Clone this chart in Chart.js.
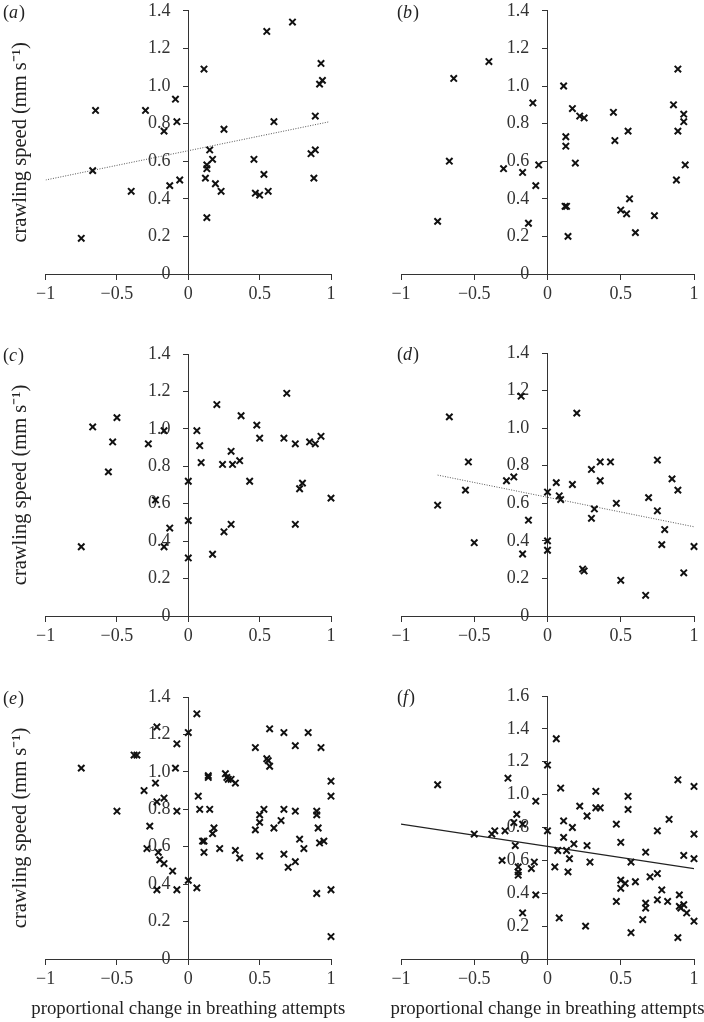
<!DOCTYPE html>
<html>
<head>
<meta charset="utf-8">
<script src="https://cdn.jsdelivr.net/npm/chart.js@4.4.1/dist/chart.umd.min.js"></script>
<style>
  body { margin: 0; background: #fff; }
  .panel { position: absolute; }
</style>
</head>
<body>
<div class="panel" style="left:0;top:0"><canvas id="chartA" width="352" height="330"></canvas></div>
<div class="panel" style="left:352px;top:0"><canvas id="chartB" width="352" height="330"></canvas></div>
<div class="panel" style="left:0;top:330px"><canvas id="chartC" width="352" height="330"></canvas></div>
<div class="panel" style="left:352px;top:330px"><canvas id="chartD" width="352" height="330"></canvas></div>
<div class="panel" style="left:0;top:660px"><canvas id="chartE" width="352" height="362"></canvas></div>
<div class="panel" style="left:352px;top:660px"><canvas id="chartF" width="352" height="362"></canvas></div>
<script>
// (a)
var aX = [-0.75, -0.65, -0.67, -0.40, -0.30, -0.17, -0.13, -0.09, -0.08, -0.06, 0.11, 0.12, 0.13, 0.13, 0.13, 0.15, 0.17, 0.19, 0.23, 0.25, 0.46, 0.47, 0.50, 0.53, 0.55, 0.56, 0.60, 0.73, 0.86, 0.89, 0.89, 0.88, 0.93, 0.92, 0.94];
var aY = [0.19, 0.87, 0.55, 0.44, 0.87, 0.76, 0.47, 0.93, 0.81, 0.50, 1.09, 0.51, 0.58, 0.56, 0.30, 0.66, 0.61, 0.48, 0.44, 0.77, 0.61, 0.43, 0.42, 0.53, 1.29, 0.44, 0.81, 1.34, 0.64, 0.84, 0.66, 0.51, 1.12, 1.01, 1.03];
var aFitX = [-1, 0.99];
var aFitY = [0.50, 0.81];

// (b)
var bX = [-0.75, -0.67, -0.64, -0.40, -0.30, -0.17, -0.13, -0.10, -0.08, -0.06, 0.11, 0.125, 0.125, 0.12, 0.13, 0.14, 0.17, 0.19, 0.22, 0.25, 0.45, 0.46, 0.50, 0.54, 0.55, 0.56, 0.60, 0.73, 0.86, 0.89, 0.89, 0.88, 0.93, 0.93, 0.94];
var bY = [0.28, 0.60, 1.04, 1.13, 0.56, 0.54, 0.27, 0.91, 0.47, 0.58, 1.00, 0.73, 0.68, 0.36, 0.36, 0.20, 0.88, 0.59, 0.84, 0.83, 0.86, 0.71, 0.34, 0.32, 0.76, 0.40, 0.22, 0.31, 0.90, 1.09, 0.76, 0.50, 0.85, 0.81, 0.58];

// (c)
var cX = [-0.75, -0.67, -0.50, -0.53, -0.56, -0.28, -0.23, -0.17, -0.17, -0.13, 0, 0, 0, 0.06, 0.08, 0.09, 0.20, 0.17, 0.24, 0.25, 0.30, 0.31, 0.30, 0.36, 0.37, 0.43, 0.48, 0.50, 0.67, 0.69, 0.75, 0.75, 0.78, 0.80, 0.85, 0.89, 0.93, 1.0];
var cY = [0.37, 1.01, 1.06, 0.93, 0.77, 0.92, 0.62, 0.99, 0.37, 0.47, 0.72, 0.51, 0.31, 0.99, 0.91, 0.82, 1.13, 0.33, 0.81, 0.45, 0.88, 0.81, 0.49, 0.83, 1.07, 0.72, 1.02, 0.95, 0.95, 1.19, 0.92, 0.49, 0.68, 0.71, 0.93, 0.92, 0.96, 0.63];

// (d)
var dX = [-0.75, -0.67, -0.54, -0.56, -0.50, -0.28, -0.23, -0.18, -0.17, -0.13, 0, 0, 0, 0.06, 0.08, 0.09, 0.17, 0.20, 0.24, 0.25, 0.30, 0.30, 0.32, 0.36, 0.36, 0.43, 0.47, 0.50, 0.67, 0.69, 0.75, 0.75, 0.80, 0.78, 0.85, 0.89, 0.93, 1.0];
var dY = [0.59, 1.06, 0.82, 0.67, 0.39, 0.72, 0.74, 1.17, 0.33, 0.51, 0.66, 0.40, 0.35, 0.71, 0.64, 0.62, 0.70, 1.08, 0.25, 0.24, 0.78, 0.52, 0.57, 0.72, 0.82, 0.82, 0.60, 0.19, 0.11, 0.63, 0.83, 0.56, 0.46, 0.38, 0.73, 0.67, 0.23, 0.37];
var dFitX = [-0.75, 1];
var dFitY = [0.75, 0.475];

// (e)
var eX = [-0.75, -0.50, -0.38, -0.36, -0.31, -0.27, -0.29, -0.23, -0.22, -0.22, -0.21, -0.20, -0.22, -0.17, -0.17, -0.11, -0.08, -0.09, -0.08, -0.08,
  0, 0, 0.06, 0.07, 0.08, 0.06, 0.10, 0.11, 0.11, 0.14, 0.14, 0.15, 0.17, 0.18, 0.22, 0.26, 0.27, 0.28, 0.30, 0.33,
  0.33, 0.36, 0.47, 0.47, 0.50, 0.50, 0.50, 0.53, 0.55, 0.56, 0.57, 0.57, 0.60, 0.65, 0.67, 0.67, 0.67, 0.70, 0.75, 0.75,
  0.75, 0.78, 0.81, 0.84, 0.90, 0.90, 0.91, 0.92, 0.95, 0.93, 0.90, 1.0, 1.0, 1.0, 1.0];
var eY = [1.02, 0.79, 1.09, 1.09, 0.90, 0.71, 0.59, 0.94, 1.24, 0.84, 0.57, 0.53, 0.37, 0.86, 0.51, 0.47, 1.15, 1.02, 0.79, 0.37,
  1.21, 0.42, 1.31, 0.87, 0.80, 0.38, 0.63, 0.63, 0.57, 0.98, 0.97, 0.80, 0.67, 0.70, 0.59, 0.99, 0.97, 0.96, 0.96, 0.94,
  0.58, 0.54, 1.13, 0.69, 0.77, 0.73, 0.55, 0.80, 1.07, 1.06, 1.03, 1.23, 0.70, 0.74, 1.21, 0.80, 0.56, 0.49, 1.14, 0.79,
  0.52, 0.64, 0.59, 1.21, 0.79, 0.77, 0.70, 0.62, 0.63, 1.13, 0.35, 0.95, 0.87, 0.37, 0.12];

// (f)
var fX = [-0.75, -0.50, -0.38, -0.36, -0.31, -0.29, -0.27, -0.23, -0.21, -0.22, -0.20, -0.20, -0.20, -0.17, -0.17, -0.11, -0.09, -0.08, -0.08, 0,
  0, 0.06, 0.05, 0.07, 0.09, 0.08, 0.11, 0.11, 0.13, 0.14, 0.15, 0.17, 0.18, 0.22, 0.27, 0.27, 0.26, 0.29, 0.33, 0.33,
  0.36, 0.47, 0.47, 0.50, 0.50, 0.50, 0.53, 0.55, 0.55, 0.57, 0.57, 0.60, 0.67, 0.67, 0.67, 0.65, 0.70, 0.75, 0.75, 0.75,
  0.78, 0.82, 0.83, 0.89, 0.90, 0.90, 0.91, 0.93, 0.95, 0.89, 0.93, 1.0, 1.0, 1.0, 1.0];
var fY = [1.06, 0.76, 0.76, 0.78, 0.60, 0.78, 1.10, 0.83, 0.88, 0.69, 0.56, 0.53, 0.51, 0.82, 0.28, 0.55, 0.59, 0.96, 0.39, 1.18,
  0.78, 1.34, 0.56, 0.66, 1.04, 0.25, 0.84, 0.74, 0.66, 0.53, 0.61, 0.80, 0.70, 0.93, 0.87, 0.69, 0.20, 0.59, 1.02, 0.92,
  0.92, 0.82, 0.35, 0.71, 0.48, 0.43, 0.46, 0.99, 0.91, 0.59, 0.16, 0.47, 0.65, 0.34, 0.31, 0.24, 0.50, 0.78, 0.52, 0.36,
  0.42, 0.35, 0.85, 1.09, 0.39, 0.32, 0.31, 0.33, 0.28, 0.13, 0.63, 1.05, 0.76, 0.61, 0.23];
var fFitX = [-1, 1];
var fFitY = [0.82, 0.55];

// axes
var xTickLabels = ['\u22121', '\u22120.5', '0', '0.5', '1'];
var yTickLabels = ['0', '0.2', '0.4', '0.6', '0.8', '1.0', '1.2', '1.4'];
var yTickLabelsF = ['0', '0.2', '0.4', '0.6', '0.8', '1.0', '1.2', '1.4', '1.6'];
var yTitle = 'crawling speed (mm s\u207B\u00B9)';
var xTitle = 'proportional change in breathing attempts';

var serif = '"Liberation Serif", "Times New Roman", serif';

function toPoints(xs, ys) {
    return xs.map(function (x, i) { return { x: x, y: ys[i] }; });
}

// draws "(a)" etc. with an italic letter, and the x title (wider than the axis, so not squeezed)
var panelText = {
    id: 'panelText',
    afterDraw: function (chart, args, opts) {
        var ctx = chart.ctx;
        var area = chart.chartArea;
        var x = opts.x;
        var y = area.top + 2;
        ctx.save();
        ctx.fillStyle = '#222';
        ctx.textBaseline = 'middle';
        ctx.font = '18px ' + serif;
        ctx.fillText('(', x, y);
        x += ctx.measureText('(').width;
        ctx.font = 'italic 18px ' + serif;
        ctx.fillText(opts.letter, x, y);
        x += ctx.measureText(opts.letter).width + 1;
        ctx.font = '18px ' + serif;
        ctx.fillText(')', x, y);
        if (opts.xTitle) {
            ctx.font = '18.8px ' + serif;
            ctx.textAlign = 'center';
            ctx.fillText(opts.xTitle, (area.left + area.right) / 2, chart.scales.y.getPixelForValue(0) + 50);
        }
        ctx.restore();
    }
};

function createPanel(canvasId, o) {
    var datasets = [{
        type: 'scatter',
        data: toPoints(o.xs, o.ys),
        pointStyle: 'crossRot',
        pointRadius: 4.5,
        pointBorderWidth: 2,
        borderColor: '#111',
        backgroundColor: '#111',
        clip: false
    }];
    if (o.fitX) {
        datasets.push({
            type: 'line',
            data: toPoints(o.fitX, o.fitY),
            borderColor: o.dotted ? '#555' : '#222',
            borderWidth: o.dotted ? 1 : 1.2,
            borderDash: o.dotted ? [1, 1.5] : [],
            pointRadius: 0,
            fill: false
        });
    }

    var scales = {
        x: {
            type: 'linear',
            min: -1,
            max: 1,
            position: { y: 0 },
            grid: { drawOnChartArea: false, drawTicks: true, tickLength: 5, color: '#333' },
            border: { display: true, color: '#333', width: 1 },
            ticks: {
                stepSize: 0.5,
                padding: 4,
                color: '#333',
                font: { family: serif, size: 18 },
                maxRotation: 0,
                callback: function (v, i) { return xTickLabels[i]; }
            }
        },
        // axis line and tick marks at x = 0
        y: {
            type: 'linear',
            min: 0,
            max: o.yMax,
            position: { x: 0 },
            grid: { drawOnChartArea: false, drawTicks: true, tickLength: 5, color: '#333' },
            border: { display: true, color: '#333', width: 1 },
            ticks: { stepSize: 0.2, display: false }
        },
        // tick labels, set a little left of the axis line
        yLabels: {
            type: 'linear',
            axis: 'y',
            min: 0,
            max: o.yMax,
            position: { x: -0.125 },
            grid: { display: false },
            border: { display: false },
            ticks: {
                stepSize: 0.2,
                padding: 0,
                color: '#333',
                font: { family: serif, size: 18 },
                callback: function (v, i) { return o.yLabels[i]; }
            }
        }
    };
    if (o.showYTitle) {
        scales.yTitle = {
            type: 'linear',
            axis: 'y',
            position: 'left',
            min: 0,
            max: 1,
            grid: { display: false },
            border: { display: false },
            ticks: { display: false },
            title: {
                display: true,
                text: yTitle,
                color: '#222',
                font: { family: serif, size: 20.5 },
                padding: { top: 6, bottom: 5 }
            }
        };
    }

    new Chart(document.getElementById(canvasId), {
        type: 'scatter',
        data: { datasets: datasets },
        options: {
            responsive: false,
            animation: false,
            events: [],
            layout: { padding: o.padding },
            plugins: {
                legend: { display: false },
                tooltip: { enabled: false },
                panelText: { letter: o.letter, x: o.labelX, xTitle: o.showXTitle ? xTitle : null }
            },
            scales: scales
        },
        plugins: [panelText]
    });
}

createPanel('chartA', { xs: aX, ys: aY, fitX: aFitX, fitY: aFitY, dotted: true, letter: 'a', labelX: 3,
    yMax: 1.4, yLabels: yTickLabels, showYTitle: true, padding: { left: 2, right: 21, top: 10, bottom: 56 } });
createPanel('chartB', { xs: bX, ys: bY, letter: 'b', labelX: 45,
    yMax: 1.4, yLabels: yTickLabels, padding: { left: 49, right: 10, top: 10, bottom: 56 } });
createPanel('chartC', { xs: cX, ys: cY, letter: 'c', labelX: 3,
    yMax: 1.4, yLabels: yTickLabels, showYTitle: true, padding: { left: 2, right: 21, top: 24, bottom: 44 } });
createPanel('chartD', { xs: dX, ys: dY, fitX: dFitX, fitY: dFitY, dotted: true, letter: 'd', labelX: 45,
    yMax: 1.4, yLabels: yTickLabels, padding: { left: 49, right: 10, top: 23, bottom: 44 } });
createPanel('chartE', { xs: eX, ys: eY, letter: 'e', labelX: 3,
    yMax: 1.4, yLabels: yTickLabels, showYTitle: true, showXTitle: true, padding: { left: 2, right: 21, top: 37, bottom: 63 } });
createPanel('chartF', { xs: fX, ys: fY, fitX: fFitX, fitY: fFitY, dotted: false, letter: 'f', labelX: 45,
    yMax: 1.6, yLabels: yTickLabelsF, showXTitle: true, padding: { left: 49, right: 10, top: 36, bottom: 63 } });
</script>
</body>
</html>
